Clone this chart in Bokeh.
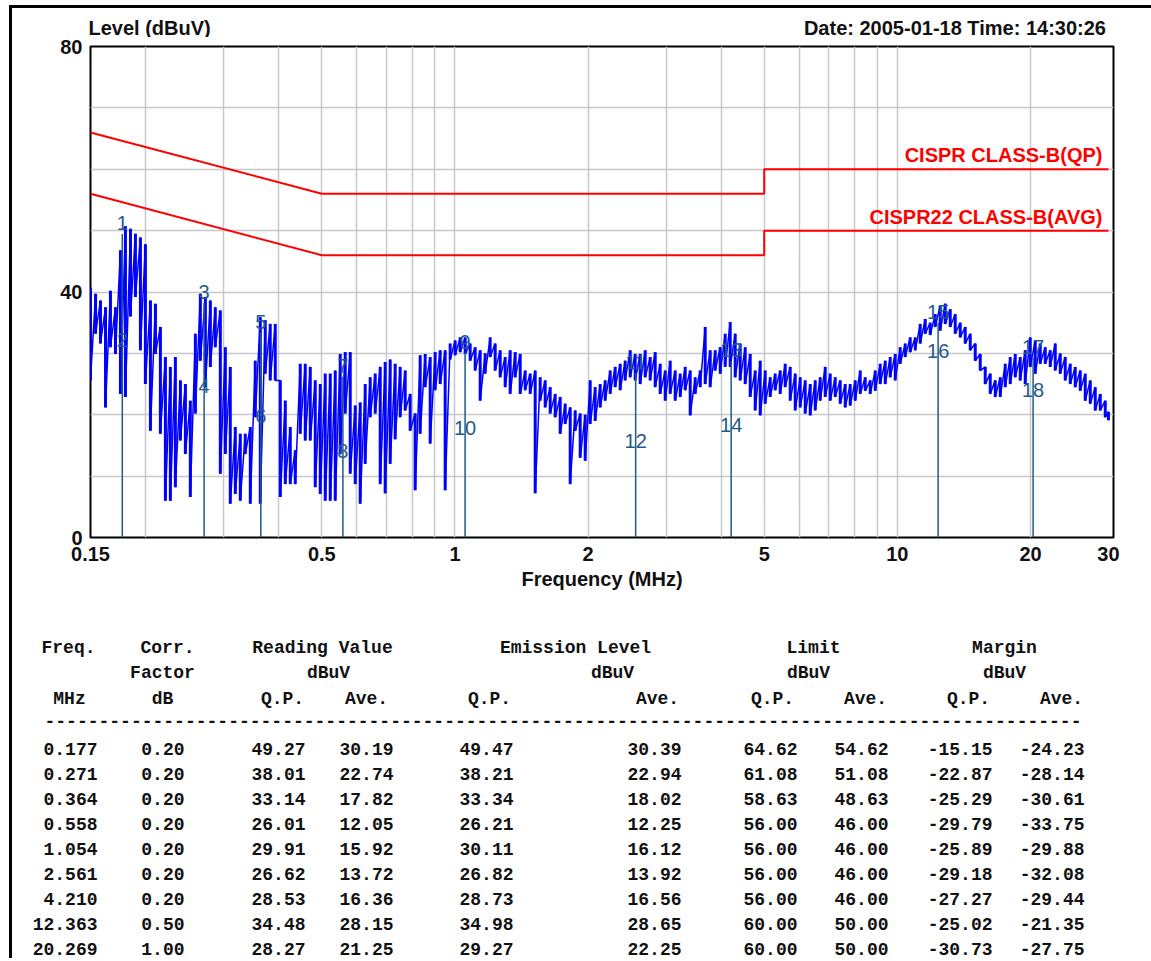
from bokeh.plotting import figure
from bokeh.models import Range1d, FixedTicker, CustomJSTickFormatter
from bokeh.core.properties import value
from bokeh.embed import file_html
from bokeh.resources import INLINE

# ---------------- data ----------------
# spectrum trace: per display column, frequency (MHz), peak and dip level (dBuV)
trace_freq = [
    0.1500, 0.1540, 0.1580, 0.1622, 0.1664, 0.1708, 0.1753, 0.1799, 0.1847, 0.1895,
    0.1945, 0.1996, 0.2049, 0.2103, 0.2158, 0.2215, 0.2273, 0.2333, 0.2395, 0.2458,
    0.2522, 0.2589, 0.2657, 0.2727, 0.2799, 0.2872, 0.2948, 0.3026, 0.3105, 0.3187,
    0.3271, 0.3357, 0.3446, 0.3536, 0.3630, 0.3725, 0.3823, 0.3924, 0.4028, 0.4134,
    0.4243, 0.4354, 0.4469, 0.4587, 0.4708, 0.4832, 0.4959, 0.5090, 0.5224, 0.5362,
    0.5503, 0.5648, 0.5797, 0.5950, 0.6106, 0.6267, 0.6432, 0.6602, 0.6776, 0.6954,
    0.7137, 0.7325, 0.7518, 0.7717, 0.7920, 0.8129, 0.8343, 0.8563, 0.8789, 0.9020,
    0.9258, 0.9502, 0.9753, 1.0010, 1.0274, 1.0545, 1.0823, 1.1108, 1.1401, 1.1702,
    1.2010, 1.2327, 1.2652, 1.2986, 1.3328, 1.3680, 1.4041, 1.4411, 1.4791, 1.5181,
    1.5581, 1.5992, 1.6414, 1.6847, 1.7291, 1.7747, 1.8215, 1.8695, 1.9188,
    1.9694, 2.0213, 2.0746, 2.1293, 2.1855, 2.2431, 2.3022, 2.3629, 2.4252, 2.4892,
    2.5548, 2.6222, 2.6913, 2.7623, 2.8351, 2.9099, 2.9866, 3.0654, 3.1462, 3.2292,
    3.3143, 3.4017, 3.4914, 3.5835, 3.6780, 3.7750, 3.8745, 3.9767, 4.0815, 4.1892,
    4.2996, 4.4130, 4.5294, 4.6488, 4.7714, 4.8972, 5.0264, 5.1589, 5.2950, 5.4346,
    5.5779, 5.7250, 5.8760, 6.0309, 6.1899, 6.3532, 6.5207, 6.6926, 6.8691, 7.0502,
    7.2361, 7.4270, 7.6228,
    7.8238, 8.0301, 8.2419, 8.4592, 8.6823, 8.9112, 9.1462, 9.3874, 9.6350, 9.8890,
    10.150, 10.417, 10.692, 10.974, 11.263, 11.560, 11.865, 12.178, 12.499, 12.829,
    13.167, 13.514, 13.871, 14.236, 14.612, 14.997, 15.393, 15.798, 16.215, 16.643,
    17.081, 17.532, 17.994, 18.469, 18.956, 19.456, 19.969, 20.495, 21.036, 21.591,
    22.160, 22.744, 23.344, 23.960, 24.592, 25.240, 25.906, 26.589, 27.290, 28.010,
    28.749, 29.507, 30.000,
]
trace_peak = [
    40.7, 39.7, 38.6, 37.5, 40.2, 37.5, 46.8, 50.7, 50.3, 49.5,
    48.9, 47.8, 38.6, 38.1, 34.3, 29.4, 27.8, 29.4, 25.6, 25.0,
    22.3, 33.2, 39.7, 39.2, 38.6, 37.5, 37.0, 31.0, 27.8, 18.0,
    16.9, 16.9, 18.0, 28.8, 35.9, 35.4, 34.8, 34.8, 25.6, 22.3,
    18.0, 14.2, 28.3, 28.3, 27.8, 25.6, 25.0, 26.7, 26.7, 27.2,
    29.9, 30.2, 30.2, 21.5, 22.0, 25.0, 26.1, 26.7, 27.8, 28.6,
    29.0, 28.3, 27.8, 27.2, 23.4, 20.2, 29.7, 29.9, 29.4, 30.2,
    30.5, 30.5, 31.6, 32.1, 32.6, 32.6, 31.6, 31.0, 30.5, 30.0,
    32.6, 31.6, 30.5, 29.4, 30.5, 30.2, 29.9, 27.2, 26.7, 27.2,
    26.1, 25.6, 24.5, 23.4, 22.9, 21.8, 21.2, 20.7, 20.2,
    20.0, 25.6, 24.5, 25.0, 25.6, 27.2, 27.8, 28.3, 28.8, 30.5,
    29.9, 29.9, 30.5, 29.4, 30.2, 28.3, 27.2, 28.8, 27.2, 26.7,
    27.8, 27.2, 26.1, 27.2, 34.3, 30.5, 30.5, 31.0, 33.2, 35.1,
    33.2, 31.6, 31.0, 29.9, 27.2, 28.8, 27.2, 26.1, 26.7, 27.2,
    28.3, 27.8, 26.7, 26.1, 25.6, 25.0, 25.6, 26.1, 27.8, 26.7,
    26.1, 25.6, 25.0,
    25.0, 25.6, 27.2, 26.1, 25.6, 27.2, 28.3, 28.8, 29.4, 29.9,
    31.0, 31.6, 32.6, 32.6, 34.8, 35.6, 35.0, 36.4, 37.8, 38.1,
    37.2, 36.4, 35.0, 34.3, 33.2, 31.6, 29.9, 27.8, 26.7, 25.6,
    26.1, 28.3, 29.4, 29.9, 29.4, 30.5, 32.6, 32.1, 31.6, 31.0,
    30.5, 31.6, 30.0, 29.4, 28.3, 27.8, 27.2, 26.7, 25.6, 24.5,
    23.4, 22.3, 20.5,
]
trace_dip = [
    25.6, 33.2, 31.6, 21.2, 31.0, 29.9, 23.4, 22.9, 36.0, 39.2,
    30.5, 25.0, 17.4, 29.9, 16.9, 6.0, 6.0, 8.2, 15.8, 13.6,
    6.6, 20.2, 28.8, 24.5, 27.8, 31.0, 10.4, 13.6, 5.5, 7.1,
    6.0, 13.6, 5.5, 19.6, 5.5, 26.7, 25.6, 25.6, 6.6, 8.7,
    8.7, 8.7, 16.9, 15.8, 15.8, 8.2, 7.1, 6.0, 6.0, 6.0,
    13.6, 20.2, 10.4, 8.7, 5.5, 12.0, 19.6, 20.2, 8.7, 7.2,
    12.0, 16.0, 19.6, 20.7, 17.4, 7.7, 16.9, 24.5, 15.3, 24.0,
    25.0, 7.7, 29.0, 29.7, 30.2, 29.9, 28.8, 27.2, 22.3, 26.7,
    29.4, 27.2, 26.1, 24.5, 23.4, 26.1, 23.4, 24.0, 23.4, 7.2,
    22.3, 21.2, 20.2, 19.6, 16.9, 18.5, 8.7, 17.4, 13.0,
    12.5, 18.5, 19.0, 21.2, 22.3, 23.4, 24.5, 24.0, 25.6, 26.1,
    25.6, 25.0, 26.1, 25.6, 24.5, 23.4, 22.3, 23.4, 22.3, 22.9,
    24.0, 19.9, 23.4, 24.5, 25.0, 24.5, 27.2, 26.7, 27.8, 27.8,
    26.1, 25.6, 25.0, 22.9, 20.7, 19.9, 21.8, 22.9, 24.0, 23.4,
    24.5, 22.3, 20.7, 21.2, 20.2, 19.9, 20.7, 22.3, 22.9, 22.3,
    22.9, 21.8, 21.2,
    21.5, 22.3, 23.4, 23.9, 23.4, 23.9, 25.0, 25.0, 26.1, 25.6,
    28.3, 29.4, 30.2, 30.5, 31.6, 33.2, 33.0, 34.3, 33.7, 34.8,
    34.3, 33.2, 32.6, 31.6, 30.5, 28.8, 27.2, 25.0, 23.4, 22.9,
    22.9, 24.5, 25.0, 26.1, 25.6, 25.0, 27.8, 26.7, 28.3, 28.3,
    27.8, 27.2, 26.7, 25.6, 25.0, 24.5, 23.9, 22.3, 21.8, 20.7,
    20.7, 19.6, 19.1,
]

# limit lines
limit_freq = [0.15, 0.5, 5.0, 5.0, 30.0]
limit_qp_line = [66.0, 56.0, 56.0, 60.0, 60.0]
limit_avg_line = [56.0, 46.0, 46.0, 50.0, 50.0]
limit_names = ["CISPR CLASS-B(QP)", "CISPR22 CLASS-B(AVG)"]
limit_name_level = [60.0, 50.0]

# measurement table
meas_freq = [0.177, 0.271, 0.364, 0.558, 1.054, 2.561, 4.210, 12.363, 20.269]
corr_factor = [0.20, 0.20, 0.20, 0.20, 0.20, 0.20, 0.20, 0.50, 1.00]
reading_qp = [49.27, 38.01, 33.14, 26.01, 29.91, 26.62, 28.53, 34.48, 28.27]
reading_avg = [30.19, 22.74, 17.82, 12.05, 15.92, 13.72, 16.36, 28.15, 21.25]
emission_qp = [49.47, 38.21, 33.34, 26.21, 30.11, 26.82, 28.73, 34.98, 29.27]
emission_avg = [30.39, 22.94, 18.02, 12.25, 16.12, 13.92, 16.56, 28.65, 22.25]
limit_qp = [64.62, 61.08, 58.63, 56.00, 56.00, 56.00, 56.00, 60.00, 60.00]
limit_avg = [54.62, 51.08, 48.63, 46.00, 46.00, 46.00, 46.00, 50.00, 50.00]
margin_qp = [-15.15, -22.87, -25.29, -29.79, -25.89, -29.18, -27.27, -25.02, -30.73]
margin_avg = [-24.23, -28.14, -30.61, -33.75, -29.88, -32.08, -29.44, -21.35, -27.75]

x_tick_values = [0.15, 0.5, 1, 2, 5, 10, 20, 30]
y_tick_values = [0, 40, 80]

y_title = "Level (dBuV)"
x_title = "Frequency (MHz)"
stamp = "Date: 2005-01-18  Time: 14:30:26"

# ---------------- styling / layout ----------------
SANS = "Liberation Sans"
MONO = "Liberation Mono"
BLUE_MARK = "#1f5a8c"
INK = "#111111"
x_grid_values = [0.2, 0.3, 0.4, 0.5, 0.6, 0.7, 0.8, 0.9, 1, 2, 3, 4, 5, 6, 7, 8, 9, 10, 20]
y_grid_values = [10, 20, 30, 40, 50, 60, 70]
PAGE_W = 1151
LEFT_RULE = {"background-image": "linear-gradient(#000, #000)",
             "background-size": "3px 100%", "background-position": "9px 0px",
             "background-repeat": "no-repeat"}
TOP_LEFT_RULE = {"background-image": "linear-gradient(#000, #000), linear-gradient(#000, #000)",
                 "background-size": "3px 100%, 100% 3px",
                 "background-position": "9px 5px, 9px 5px",
                 "background-repeat": "no-repeat"}

# header strip
HEAD_H = 37
h = figure(x_range=Range1d(0, PAGE_W), y_range=Range1d(HEAD_H, 0),
           frame_width=PAGE_W, frame_height=HEAD_H, min_border=0,
           x_axis_location=None, y_axis_location=None, toolbar_location=None,
           output_backend="svg", background_fill_color=None, border_fill_color=None,
           styles=TOP_LEFT_RULE)
h.outline_line_color = None
h.xgrid.visible = False
h.ygrid.visible = False
hstyle = dict(text_font=value(SANS), text_font_style="bold", text_font_size="20px",
              text_color=INK, text_baseline="middle")
h.text(x=[88], y=[27], text=[y_title], text_align="left", **hstyle)
h.text(x=[1111], y=[27], text=[stamp], text_align="right", **hstyle)

# chart
p = figure(x_axis_type="log", x_range=Range1d(0.15, 30.8), y_range=Range1d(0, 80),
           frame_width=1023, frame_height=491,
           min_border_left=90, min_border_right=38, min_border_top=9, min_border_bottom=71,
           output_backend="svg", toolbar_location=None,
           background_fill_color=None, border_fill_color=None, styles=LEFT_RULE)
p.outline_line_color = "#000000"
p.outline_line_width = 2

p.xaxis.ticker = FixedTicker(ticks=x_tick_values)
p.xaxis.formatter = CustomJSTickFormatter(code="return tick.toString();")
p.yaxis.ticker = FixedTicker(ticks=y_tick_values)
p.xgrid.ticker = FixedTicker(ticks=x_grid_values)
p.ygrid.ticker = FixedTicker(ticks=y_grid_values)
for g in (p.xgrid[0], p.ygrid[0]):
    g.grid_line_color = "#c8c8c8"
    g.grid_line_width = 1.5

for ax in (p.xaxis[0], p.yaxis[0]):
    ax.axis_line_color = None
    ax.major_tick_line_color = None
    ax.minor_tick_line_color = None
    ax.major_tick_out = 0
    ax.major_tick_in = 0
    ax.minor_tick_out = 0
    ax.minor_tick_in = 0
    ax.major_label_text_font = SANS
    ax.major_label_text_font_style = "bold"
    ax.major_label_text_font_size = "20px"
    ax.major_label_text_color = INK
p.xaxis.major_label_standoff = 9
p.yaxis.major_label_standoff = 8
p.xaxis.axis_label = x_title
p.xaxis.axis_label_text_font = SANS
p.xaxis.axis_label_text_font_style = "bold"
p.xaxis.axis_label_text_font_size = "20px"
p.xaxis.axis_label_text_color = INK
p.xaxis.axis_label_standoff = 4

# limit lines and their names
p.line(limit_freq, limit_qp_line, line_color="#ff0000", line_width=2)
p.line(limit_freq, limit_avg_line, line_color="#ff0000", line_width=2)
p.text(x=[limit_freq[-1]] * 2, y=limit_name_level, text=limit_names,
       text_align="right", text_baseline="middle", x_offset=-6, y_offset=-14,
       text_font=value(SANS), text_font_style="bold", text_font_size="20px",
       text_color="#ff0000")

# trace: each display column drawn from peak to dip, joined as one polyline
tx, ty = [], []
for f, hi, lo in zip(trace_freq, trace_peak, trace_dip):
    tx += [f, f]
    ty += [hi, lo]
p.segment(x0=trace_freq, y0=trace_dip, x1=trace_freq, y1=trace_peak,
          line_color="#0000ff", line_width=3)
p.line(tx, ty, line_color="#0000ff", line_width=1.5)

# markers
p.segment(x0=meas_freq, y0=[0] * len(meas_freq), x1=meas_freq, y1=emission_qp,
          line_color=BLUE_MARK, line_width=1.5)
mk_x, mk_y, mk_t = [], [], []
for i, f in enumerate(meas_freq):
    mk_x += [f, f]
    mk_y += [emission_qp[i], emission_avg[i]]
    mk_t += [str(2 * i + 1), str(2 * i + 2)]
p.text(x=mk_x, y=mk_y, text=mk_t, text_align="center", text_baseline="bottom",
       y_offset=-4, text_font=value(SANS), text_font_size="20px", text_color=BLUE_MARK)

# ---------------- table ----------------
TAB_TOP, TAB_BOTTOM = 608, 958
t = figure(x_range=Range1d(0, PAGE_W), y_range=Range1d(TAB_BOTTOM, TAB_TOP),
           frame_width=PAGE_W, frame_height=TAB_BOTTOM - TAB_TOP, min_border=0,
           x_axis_location=None, y_axis_location=None, toolbar_location=None,
           output_backend="svg", background_fill_color=None, border_fill_color=None,
           styles=LEFT_RULE)
t.outline_line_color = None
t.xgrid.visible = False
t.ygrid.visible = False

head1 = ["Freq.", "Corr.", "Reading Value", "Emission Level", "Limit", "Margin"]
head1_x = [68, 167, 322, 575, 813, 1004]
head2 = ["Factor", "dBuV", "dBuV", "dBuV", "dBuV"]
head2_x = [162, 328, 612, 808, 1004]
head3 = ["MHz", "dB", "Q.P.", "Ave.", "Q.P.", "Ave.", "Q.P.", "Ave.", "Q.P.", "Ave."]
head3_x = [69, 162, 282, 366, 489, 657, 772, 865, 968, 1061]
col_right = [97, 184, 305, 393, 513, 681, 797, 888, 992, 1084]

tstyle = dict(text_font=value(MONO), text_font_style="bold", text_font_size="18px",
              text_color=INK, text_baseline="middle")
t.text(x=head1_x, y=[647] * len(head1), text=head1, text_align="center", **tstyle)
t.text(x=head2_x, y=[672] * len(head2), text=head2, text_align="center", **tstyle)
t.text(x=head3_x, y=[698] * len(head3), text=head3, text_align="center", **tstyle)
t.text(x=[44], y=[720], text=["-" * 96], text_align="left", **tstyle)

columns = [meas_freq, corr_factor, reading_qp, reading_avg, emission_qp, emission_avg,
           limit_qp, limit_avg, margin_qp, margin_avg]
cx, cy, ct = [], [], []
for j, col in enumerate(columns):
    fmt = "%.3f" if j == 0 else "%.2f"
    for i, v in enumerate(col):
        cx.append(col_right[j])
        cy.append(748 + 25 * i)
        ct.append(fmt % v)
t.text(x=cx, y=cy, text=ct, text_align="right", **tstyle)

open("out.html", "w").write(file_html([h, p, t], INLINE))
